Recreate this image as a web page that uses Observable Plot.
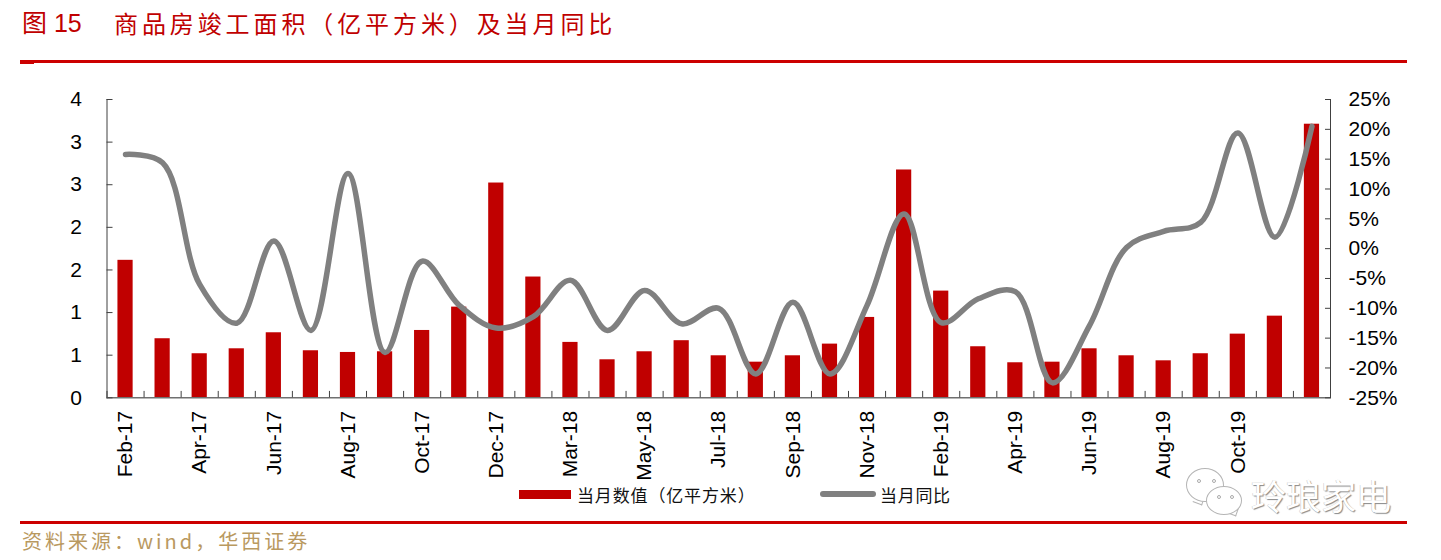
<!DOCTYPE html>
<html><head><meta charset="utf-8">
<script src="https://cdn.jsdelivr.net/npm/d3@7"></script>
<script src="https://cdn.jsdelivr.net/npm/@observablehq/plot@0.6"></script>
<style>
html,body{margin:0;padding:0;background:#fff;}
#page{position:relative;width:1441px;height:560px;overflow:hidden;font-family:"Noto Sans CJK SC",sans-serif;}
#page>div{position:absolute;white-space:pre;}
.title{top:6px;font-size:24px;line-height:34px;color:#c00000;}
.rule{background:#cc0000;}
#chart{left:0;top:70px;}
#source{left:22px;top:526px;font-size:20px;line-height:30px;color:#b9995f;letter-spacing:3px;}
.leg{font-size:17px;line-height:24px;color:#111;top:483px;}
#mark{left:1251px;top:471px;font-size:35px;line-height:48px;color:#fff;text-shadow:1px 1px 1px #888,-0.5px -0.5px 0 #ccc;}
.bub{border:1.3px solid #b5b5b5;border-radius:50%;background:#fff;box-sizing:border-box;}
.tail{width:9px;height:9px;background:#fff;border-right:1.3px solid #b5b5b5;border-bottom:1.3px solid #b5b5b5;transform:rotate(20deg);}
.dot{width:4px;height:4px;border:1px solid #aaa;border-radius:50%;box-sizing:border-box;background:#fff;}
</style></head>
<body><div id="page">
<div class="title" style="left:22px;font-family:'Liberation Sans','Noto Sans CJK SC',sans-serif;font-size:25px">图 15</div>
<div class="title" style="left:114px;letter-spacing:3.9px">商品房竣工面积（亿平方米）及当月同比</div>
<div class="rule" style="left:20px;top:60px;width:1387px;height:3px"></div>
<div class="rule" style="left:20px;top:63px;width:14px;height:1px"></div>
<div id="chart"></div>
<div class="rule" style="left:519px;top:490px;width:52px;height:9px;background:#c00000"></div>
<div class="leg" style="left:577px;letter-spacing:0.85px">当月数值（亿平方米）</div>
<div class="rule" style="left:820px;top:491px;width:56px;height:6px;border-radius:3px;background:#808080"></div>
<div class="leg" style="left:880px;letter-spacing:0.7px">当月同比</div>
<div class="tail" style="left:1194px;top:494px"></div>
<div class="bub" style="left:1186px;top:468px;width:38px;height:34px"></div>
<div class="dot" style="left:1197px;top:479px"></div>
<div class="dot" style="left:1212px;top:479px"></div>
<div class="tail" style="left:1228px;top:505px"></div>
<div class="bub" style="left:1206px;top:486px;width:36px;height:29px"></div>
<div class="dot" style="left:1217px;top:495px"></div>
<div class="dot" style="left:1230px;top:495px"></div>
<div id="mark">玲琅家电</div>
<div class="rule" style="left:20px;top:521px;width:1387px;height:3px"></div>
<div id="source">资料来源：wind，华西证券</div>
</div>
<script>
const months = ["Feb-17","Mar-17","Apr-17","May-17","Jun-17","Jul-17","Aug-17","Sep-17","Oct-17","Nov-17","Dec-17",
  "Feb-18","Mar-18","Apr-18","May-18","Jun-18","Jul-18","Aug-18","Sep-18","Oct-18","Nov-18","Dec-18",
  "Feb-19","Mar-19","Apr-19","May-19","Jun-19","Jul-19","Aug-19","Sep-19","Oct-19","Nov-19","Dec-19"];
const area = [1.613,0.693,0.517,0.575,0.763,0.552,0.532,0.54,0.79,1.064,2.52,
  1.417,0.65,0.446,0.54,0.67,0.493,0.418,0.493,0.63,0.943,2.673,
  1.252,0.599,0.411,0.418,0.575,0.493,0.434,0.517,0.747,0.958,3.21];
const yoy = [15.8,14.4,-6,-12.5,1.3,-13.7,12.6,-17.4,-2.1,-9.5,-13.3,
  -11.4,-5.3,-13.7,-7,-12.6,-10,-21,-9,-21,-9.5,5.8,
  -12.4,-8.4,-7.2,-22.5,-12.9,0.2,2.9,4.4,19.4,1.9,20.5];
const xLabels = ["Feb-17","Apr-17","Jun-17","Aug-17","Oct-17","Dec-17","Mar-18","May-18","Jul-18","Sep-18","Nov-18","Feb-19","Apr-19","Jun-19","Aug-19","Oct-19"];
const leftTicks = [0,0.5,1,1.5,2,2.5,3,3.5];
const leftLabels = ["0","1","1","2","2","3","3","4"];
const rightTicks = [-25,-20,-15,-10,-5,0,5,10,15,20,25];

const toLeft = d3.scaleLinear([-25,25],[0,3.5]);
const rows = months.map((m,i)=>({m,area:area[i],yoy:yoy[i]}));
const W=1441, H=420, ml=106.5, mr=111, step=(W-ml-mr)/months.length;
const font='"Liberation Sans",Arial,sans-serif';

const plot = Plot.plot({
  width:W, height:H, marginLeft:ml, marginRight:mr, marginTop:29, marginBottom:92.7,
  style:{fontFamily:font,fontSize:"21px",color:"#000",background:"transparent",overflow:"visible"},
  x:{type:"band",domain:months,paddingInner:0.59,paddingOuter:0.295,round:false,label:null},
  y:{domain:[0,3.5],label:null},
  marks:[
    Plot.barY(rows,{x:"m",y:"area",fill:"#c00000"}),
    Plot.frame({anchor:"left",stroke:"#404040"}),
    Plot.frame({anchor:"right",stroke:"#404040"}),
    Plot.ruleY([0],{stroke:"#707070",strokeWidth:1.5}),
    Plot.ruleX(months,{x:d=>d,y1:0,y2:0.075,dx:-step/2,stroke:"#404040"}),
    Plot.ruleX(months.slice(-1),{x:d=>d,y1:0,y2:0.075,dx:step/2,stroke:"#404040"}),
    Plot.line(rows,{x:"m",y:d=>toLeft(d.yoy),stroke:"#808080",strokeWidth:5.5,curve:"catmull-rom",strokeLinecap:"round"}),
    Plot.axisY({anchor:"left",ticks:leftTicks,tickFormat:d=>leftLabels[leftTicks.indexOf(d)],tickSize:-6,tickPadding:31,stroke:"#404040",label:null}),
    Plot.axisY({anchor:"right",ticks:rightTicks.map(toLeft),tickFormat:d=>Math.round(toLeft.invert(d))+"%",tickSize:-6,tickPadding:24,stroke:"#404040",label:null}),
    Plot.axisX({anchor:"bottom",ticks:xLabels,tickSize:0,tickPadding:13,tickRotate:-90,label:null})
  ]
});
document.getElementById("chart").appendChild(plot);
</script>
</body></html>
